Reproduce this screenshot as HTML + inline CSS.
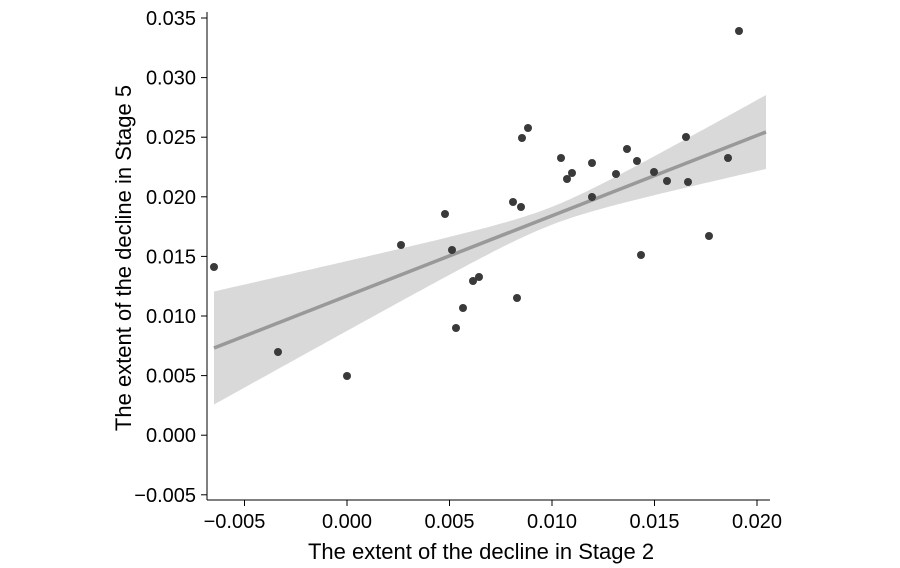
<!DOCTYPE html>
<html><head><meta charset="utf-8"><style>
body{margin:0;background:#fff}
svg{display:block;font-family:"Liberation Sans",sans-serif}
</style></head><body>
<svg id="s" width="900" height="568" xmlns="http://www.w3.org/2000/svg">
<polygon id="band" fill="#d9d9d9"/>
<line x1="214" y1="348" x2="766" y2="132" stroke="#999" stroke-width="3.5"/>
<g id="pts" fill="#3a3a3a"></g>
<g stroke="#000" stroke-width="1">
<line x1="207" y1="12" x2="207" y2="500"/>
<line x1="207" y1="500" x2="770" y2="500"/>
</g>
<g id="ticks" stroke="#000"></g>
<g id="labs" font-size="20" fill="#000"></g>
<text x="481" y="559" font-size="22" text-anchor="middle">The extent of the decline in Stage 2</text>
<text transform="translate(131,258) rotate(-90)" font-size="22" text-anchor="middle">The extent of the decline in Stage 5</text>
</svg>
<script>
var ns="http://www.w3.org/2000/svg";
function el(t,a,p){var e=document.createElementNS(ns,t);for(var k in a)e.setAttribute(k,a[k]);document.getElementById(p).appendChild(e);return e;}
var up=[],lo=[];
for(var x=214;x<=766;x+=4){var y=348-0.3913*(x-214);var h=Math.sqrt(80+0.0276*(x-550)*(x-550));up.push(x+","+(y-h).toFixed(1));lo.unshift(x+","+(y+h).toFixed(1));}
document.getElementById("band").setAttribute("points",up.concat(lo).join(" "));
var P=[[214,267],[278,352],[347,376],[401,245],[445,214],[452,250],[463,308],[456,328],[473,281],[479,277],[513,202],[517,298],[522,138],[528,128],[521,207],[561,158],[567,179],[572,173],[592,163],[592,197],[616,174],[627,149],[637,161],[641,255],[654,172],[667,181],[686,137],[688,182],[709,236],[728,158],[739,31]];
P.forEach(function(p){el("circle",{cx:p[0],cy:p[1],r:4},"pts");});
var yl=["0.035","0.030","0.025","0.020","0.015","0.010","0.005","0.000","\u22120.005"];
for(var i=0;i<9;i++){var y=18+i*59.6;el("line",{x1:201,y1:y,x2:207,y2:y},"ticks");var t=el("text",{x:196,y:y+7,"text-anchor":"end"},"labs");t.textContent=yl[i];}
var xl=["\u22120.005","0.000","0.005","0.010","0.015","0.020"];
for(var i=0;i<6;i++){var x=244.5+i*102.5;el("line",{x1:x,y1:500,x2:x,y2:506},"ticks");var t=el("text",{x:x-(i==0?10:0),y:528,"text-anchor":"middle"},"labs");t.textContent=xl[i];}
</script>
</body></html>
